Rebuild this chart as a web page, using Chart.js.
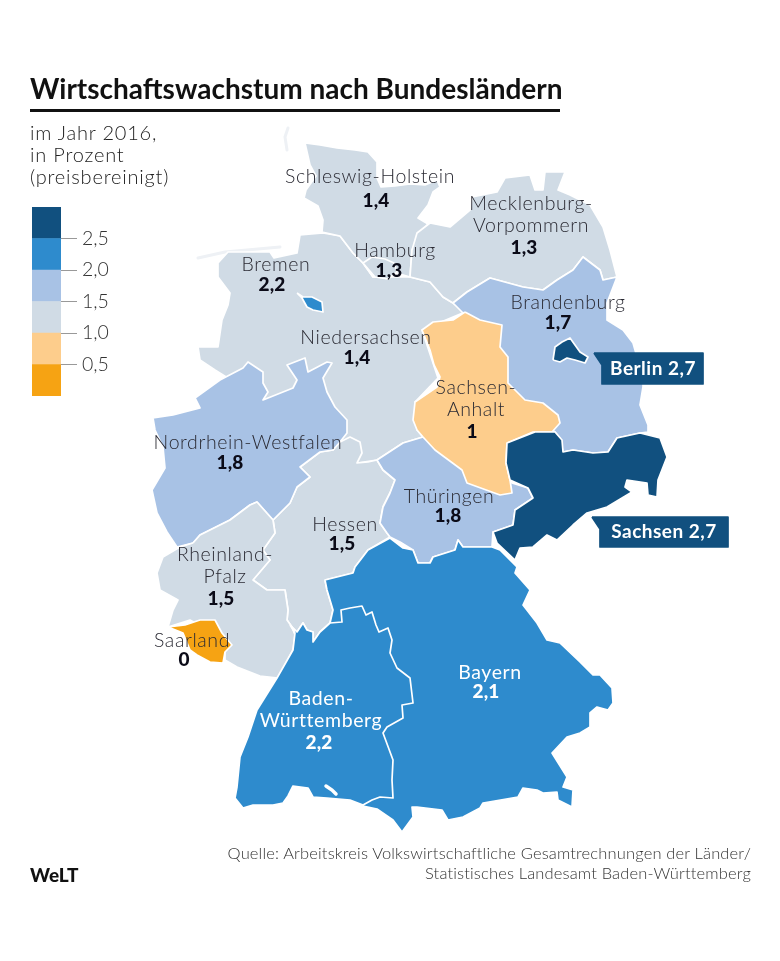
<!DOCTYPE html>
<html lang="de">
<head>
<meta charset="utf-8">
<title>Wirtschaftswachstum nach Bundesländern</title>
<script src="https://cdn.jsdelivr.net/npm/chart.js@4"></script>
<style>
    html, body { margin: 0; padding: 0; background: #fff; }
    body { position: relative; width: 780px; height: 961px; overflow: hidden; font-family: Lato, sans-serif; color: #222; }
    #mapChart { position: absolute; left: 0; top: 0; }
    #scaleChart { position: absolute; left: 32px; top: 207px; }
    h1 { position: absolute; left: 30px; top: 71px; margin: 0; font-size: 28px; line-height: 34px; font-weight: 700; color: #111; white-space: nowrap; }
    #rule { position: absolute; left: 30px; top: 109px; width: 530px; height: 3px; background: #111; }
    #sub { position: absolute; left: 30px; top: 121px; font-size: 20px; line-height: 22px; font-weight: 300; letter-spacing: 0.8px; }
    #source { position: absolute; right: 29px; top: 843px; text-align: right; font-size: 16.5px; line-height: 20px; font-weight: 300; letter-spacing: 0.15px; color: #333; }
    #logo { position: absolute; left: 30px; top: 864px; font-size: 19px; line-height: 22px; font-weight: 900; color: #111; }
</style>
</head>
<body>
<canvas id="mapChart" width="780" height="961"></canvas>
<h1>Wirtschaftswachstum nach Bundesländern</h1>
<div id="rule"></div>
<div id="sub">im Jahr 2016,<br>in Prozent<br>(preisbereinigt)</div>
<canvas id="scaleChart" width="90" height="189"></canvas>
<div id="source">Quelle: Arbeitskreis Volkswirtschaftliche Gesamtrechnungen der Länder/<br>Statistisches Landesamt Baden-Württemberg</div>
<div id="logo">WeLT</div>

<script>
const stateNames = ['Niedersachsen', 'Schleswig-Holstein', 'Mecklenburg-Vorpommern', 'Hamburg', 'Bremen', 'Brandenburg', 'Hessen', 'Nordrhein-Westfalen', 'Rheinland-Pfalz', 'Thüringen', 'Bayern', 'Sachsen-Anhalt', 'Sachsen', 'Berlin', 'Baden-Württemberg', 'Saarland'];
const stateValues = [1.4, 1.4, 1.3, 1.3, 2.2, 1.7, 1.5, 1.8, 1.5, 1.8, 2.1, 1, 2.7, 2.7, 2.2, 0];

// Legende
const scaleTicks = [0.5, 1.0, 1.5, 2.0, 2.5];
const scaleColors = ['#f6a313', '#fdcd8c', '#d0dbe5', '#a8c2e5', '#2e8bcd', '#11507f'];

// Umrisse, von der Karte abgenommen (x, y)
const outlineNds = [[218,263],[228,252],[270,252],[274,258],[297,253],[300,235],[323,233],[340,236],[353,253],[363,263],[373,277],[393,277],[410,277],[430,282],[443,297],[453,303],[465,312],[422,330],[438,378],[415,402],[417,430],[423,437],[403,443],[377,460],[357,463],[340,442],[300,420],[263,400],[215,370],[200,360],[198,347],[218,347],[222,320],[228,305],[230,293],[218,277]];
const outlineSh = [[305,143],[320,145],[337,148],[355,150],[368,152],[377,162],[377,178],[381,187],[395,186],[410,184],[425,185],[437,180],[440,187],[433,192],[428,205],[418,218],[428,224],[420,233],[417,240],[412,250],[410,277],[393,272],[373,277],[363,263],[353,253],[340,236],[322,232],[323,220],[318,206],[304,198],[306,190],[316,176],[310,165]];
const outlineMv = [[410,277],[412,250],[417,233],[430,223],[450,227],[470,210],[472,197],[497,192],[505,178],[530,175],[535,190],[543,190],[545,172],[565,172],[558,190],[570,195],[590,205],[603,227],[610,250],[617,277],[603,280],[600,270],[583,257],[573,270],[557,280],[543,290],[523,287],[490,278],[467,292],[453,303],[443,297],[430,282]];
const outlineHh = [[363,263],[372,257],[385,259],[394,263],[397,272],[388,279],[375,277]];
const outlineHb = [[297,293],[303,297],[312,297],[322,302],[323,312],[313,310],[307,307],[302,298]];
const outlineBb = [[453,303],[467,292],[490,278],[523,287],[543,290],[557,280],[573,270],[583,257],[600,270],[603,280],[617,277],[607,303],[607,320],[623,330],[633,343],[637,357],[643,377],[643,387],[640,405],[648,425],[648,432],[640,433],[617,438],[608,452],[593,453],[573,450],[563,452],[560,438],[555,432],[510,400],[490,340]];
const outlineHe = [[340,442],[350,437],[360,442],[362,453],[357,463],[368,462],[377,460],[383,470],[395,480],[390,493],[383,507],[380,523],[387,533],[390,537],[368,550],[355,567],[353,573],[325,580],[327,590],[333,610],[330,623],[320,632],[313,642],[313,632],[307,630],[303,623],[297,632],[292,627],[287,620],[288,610],[285,590],[267,590],[253,580],[270,560],[263,550],[275,533],[273,520],[290,503],[297,487],[310,477],[300,467],[320,452],[333,450]];
const outlineNrw = [[153,418],[173,415],[200,408],[195,398],[220,380],[243,368],[248,362],[263,372],[263,383],[268,392],[263,400],[293,388],[297,380],[287,365],[305,358],[308,372],[327,362],[332,363],[323,378],[327,392],[335,407],[347,420],[347,433],[340,442],[333,450],[320,452],[300,467],[310,477],[297,487],[290,503],[273,520],[257,502],[250,505],[230,520],[200,535],[193,543],[177,547],[167,532],[157,513],[152,490],[165,468],[163,447],[155,430]];
const outlineRp = [[193,543],[200,535],[230,520],[250,505],[257,502],[273,520],[275,533],[263,550],[270,560],[253,580],[267,590],[285,590],[288,610],[287,620],[292,627],[295,635],[293,650],[278,678],[260,676],[237,667],[225,660],[225,640],[190,620],[168,627],[173,610],[178,600],[160,590],[157,573],[163,557],[180,547]];
const outlineTh = [[377,460],[403,443],[423,437],[440,445],[500,470],[512,483],[528,488],[533,498],[515,510],[513,525],[493,532],[492,547],[463,547],[458,540],[455,550],[433,557],[430,563],[418,563],[413,550],[400,542],[390,537],[387,533],[380,523],[383,507],[390,493],[395,480],[383,470]];
const outlineBy = [[325,580],[353,573],[355,567],[368,550],[390,538],[403,548],[413,550],[418,563],[430,563],[433,557],[455,550],[458,540],[463,547],[492,547],[500,550],[517,567],[515,573],[530,590],[523,605],[537,623],[547,640],[560,643],[580,662],[593,675],[600,675],[612,688],[613,703],[608,710],[597,707],[590,713],[590,727],[580,733],[567,737],[552,753],[567,777],[563,787],[573,790],[572,807],[558,800],[557,792],[543,793],[537,790],[523,788],[518,797],[483,803],[480,808],[463,817],[448,820],[442,810],[417,807],[412,807],[413,817],[402,832],[393,820],[377,809],[363,806],[380,760],[350,700],[330,623],[333,610],[327,590]];
const outlineSa = [[465,312],[480,320],[502,325],[500,347],[508,357],[508,383],[525,400],[543,403],[558,415],[560,423],[552,432],[533,432],[507,443],[506,463],[510,480],[512,493],[500,495],[467,483],[462,470],[435,450],[423,437],[417,430],[413,420],[415,402],[437,387],[440,377],[434,365],[430,350],[422,330],[433,322],[453,320]];
const outlineSn = [[507,443],[535,432],[555,432],[562,440],[563,452],[573,450],[593,453],[608,452],[617,438],[640,433],[660,438],[667,457],[658,480],[657,497],[648,495],[647,483],[627,480],[625,487],[632,492],[607,507],[587,513],[573,525],[557,540],[547,535],[533,547],[520,548],[515,560],[497,543],[493,532],[513,525],[515,510],[533,498],[528,488],[510,480],[506,463]];
const outlineBe = [[553,360],[555,347],[562,342],[570,338],[575,345],[580,352],[588,357],[585,363],[575,360],[567,358],[560,362]];
const outlineBw = [[290,625],[297,632],[303,623],[307,630],[313,632],[313,642],[320,632],[330,623],[342,622],[341,610],[350,608],[362,606],[366,615],[372,612],[376,625],[379,632],[388,628],[392,640],[390,653],[397,668],[410,678],[413,703],[402,705],[403,718],[387,727],[383,733],[393,760],[392,780],[393,798],[380,797],[372,800],[363,805],[350,800],[327,798],[313,797],[308,788],[293,786],[288,796],[283,803],[273,805],[253,805],[243,808],[235,798],[237,787],[240,757],[248,737],[257,710],[277,678],[293,650],[295,633]];
const outlineSl = [[168,627],[185,625],[200,620],[215,620],[222,633],[232,645],[225,652],[223,663],[210,662],[197,655],[190,650],[183,633]];
const outlines = [outlineNds, outlineSh, outlineMv, outlineHh, outlineHb, outlineBb, outlineHe, outlineNrw, outlineRp, outlineTh, outlineBy, outlineSa, outlineSn, outlineBe, outlineBw, outlineSl];

// Küsteninseln und Bodensee
const islandsNorthSea = [[198,258],[225,252],[280,247]];
const islandsFrisia = [[288,128],[285,137],[287,150]];
const lakeConstance = [[326,786],[332,790],[336,794]];

// Schilder für Berlin und Sachsen
const calloutBerlin = [[594,353],[703,353],[703,384],[602,384],[602,365]];
const calloutSachsen = [[592,517],[728,517],[728,547],[600,547],[600,529]];

// Beschriftung: Zeilen des Namens, dann Wert
const labelLines = [['Niedersachsen'], ['Schleswig-Holstein'], ['Mecklenburg-', 'Vorpommern'], ['Hamburg'], ['Bremen'], ['Brandenburg'], ['Hessen'], ['Nordrhein-Westfalen'], ['Rheinland-', 'Pfalz'], ['Thüringen'], ['Bayern'], ['Sachsen-', 'Anhalt'], [], [], ['Baden-', 'Württemberg'], ['Saarland']];
const labelSpots = [[366,338,357,358], [370,177,376,201], [531,204,524,248], [395,251,389,271], [276,265,272,285], [568,303,558,323], [345,525,342,544], [248,443,230,463], [225,555,221,599], [449,497,448,516], [490,673,486,692], [476,388,472,432], null, null, [321,699,319,743], [192,641,184,660]];
const lineGap = 22;

const FONT = 'Lato, sans-serif';

function colorFor(value) {
    let bin = scaleTicks.findIndex(t => value <= t);
    if (bin < 0) bin = scaleTicks.length;
    return scaleColors[bin];
}

function formatValue(value) {
    return String(value).replace('.', ',');
}

function toPoints(list) {
    const pts = list.map(p => ({ x: p[0], y: p[1] }));
    pts.push(pts[0]);
    return pts;
}

function shape(list, color, border) {
    return {
        data: toPoints(list),
        showLine: true,
        fill: 'shape',
        backgroundColor: color,
        borderColor: border,
        borderWidth: 1.7,
        borderJoinStyle: 'round',
        pointRadius: 0,
        tension: 0
    };
}

function stroke(list, color, width) {
    return {
        data: list.map(p => ({ x: p[0], y: p[1] })),
        showLine: true,
        fill: false,
        borderColor: color,
        borderWidth: width,
        borderCapStyle: 'round',
        pointRadius: 0
    };
}

const mapLabels = {
    id: 'mapLabels',
    afterDatasetsDraw(chart) {
        const { ctx, scales: { x, y } } = chart;
        ctx.save();
        ctx.textAlign = 'center';
        ctx.textBaseline = 'middle';
        stateNames.forEach((name, i) => {
            const spot = labelSpots[i];
            if (!spot) return;
            const inverted = stateValues[i] > 2 && stateValues[i] <= 2.5 && name !== 'Bremen';
            ctx.fillStyle = inverted ? '#fff' : '#2a2a33';
            ctx.font = (inverted ? '400' : '300') + ' 19.5px ' + FONT;
            ctx.letterSpacing = '0.6px';
            labelLines[i].forEach((line, k) => {
                ctx.fillText(line, x.getPixelForValue(spot[0]), y.getPixelForValue(spot[1] + k * lineGap));
            });
            ctx.letterSpacing = '0.2px';
            ctx.fillStyle = inverted ? '#fff' : '#0b0b18';
            ctx.font = '900 19px ' + FONT;
            ctx.fillText(formatValue(stateValues[i]), x.getPixelForValue(spot[2]), y.getPixelForValue(spot[3]));
        });
        ctx.fillStyle = '#fff';
        ctx.font = '700 19px ' + FONT;
        ctx.letterSpacing = '0.5px';
        ctx.fillText('Berlin ' + formatValue(stateValues[stateNames.indexOf('Berlin')]), x.getPixelForValue(653), y.getPixelForValue(369));
        ctx.fillText('Sachsen ' + formatValue(stateValues[stateNames.indexOf('Sachsen')]), x.getPixelForValue(664), y.getPixelForValue(532));
        ctx.restore();
    }
};

const datasets = [
    stroke(islandsNorthSea, '#eef1f5', 3),
    stroke(islandsFrisia, '#eef1f5', 3)
];
outlines.forEach((list, i) => datasets.push(shape(list, colorFor(stateValues[i]), '#fff')));
datasets.push(stroke(lakeConstance, '#fff', 3.5));
datasets.push(shape(calloutBerlin, scaleColors[5], scaleColors[5]));
datasets.push(shape(calloutSachsen, scaleColors[5], scaleColors[5]));
// Chart.js malt den niedrigsten order zuletzt, also oben
datasets.forEach((d, i) => { d.order = datasets.length - i; });

new Chart(document.getElementById('mapChart'), {
    type: 'scatter',
    data: { datasets: datasets },
    options: {
        responsive: false,
        animation: false,
        events: [],
        layout: { padding: 0 },
        plugins: { legend: { display: false }, tooltip: { enabled: false } },
        scales: {
            x: { type: 'linear', display: false, min: 0, max: 780 },
            y: { type: 'linear', display: false, min: 0, max: 961, reverse: true }
        }
    },
    plugins: [mapLabels]
});

// Farbskala als Balken von Schwelle zu Schwelle
const binEdges = [0].concat(scaleTicks, [3]);
new Chart(document.getElementById('scaleChart'), {
    type: 'bar',
    data: {
        labels: [''],
        datasets: scaleColors.map((color, i) => ({
            data: [[binEdges[i], binEdges[i + 1]]],
            backgroundColor: color,
            grouped: false,
            barPercentage: 1,
            categoryPercentage: 1
        }))
    },
    options: {
        responsive: false,
        animation: false,
        events: [],
        layout: { padding: 0 },
        plugins: { legend: { display: false }, tooltip: { enabled: false } },
        scales: {
            x: { display: false },
            y: {
                position: 'right',
                min: 0,
                max: 3,
                border: { display: false },
                afterFit(scale) { scale.width = 61; scale.paddingTop = 0; scale.paddingBottom = 0; },
                afterBuildTicks(scale) { scale.ticks = scaleTicks.map(v => ({ value: v })); },
                grid: { drawOnChartArea: false, drawTicks: true, tickLength: 16, tickColor: '#999', lineWidth: 1 },
                ticks: {
                    padding: 5,
                    color: '#333',
                    font: { family: 'Lato', size: 19.5, weight: '300' },
                    callback: v => v.toFixed(1).replace('.', ',')
                }
            }
        }
    }
});
</script>
</body>
</html>
